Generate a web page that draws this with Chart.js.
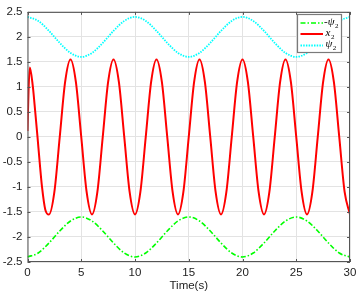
<!DOCTYPE html>
<html>
<head>
<meta charset="utf-8">
<script src="https://cdn.jsdelivr.net/npm/chart.js@4"></script>
<style>
  html, body { margin: 0; padding: 0; background: #fff; }
  canvas { display: block; }
</style>
</head>
<body>
<canvas id="chart" width="361" height="293"></canvas>
<script>
// x2 response (red)
const x2Time = [
  0, 0.1, 0.22, 0.5, 0.72, 0.93, 1.13, 1.35, 1.65, 2,
  2.5, 3, 3.5, 4, 4.5, 5, 5.5, 6,
  6.5, 7, 7.5, 8, 8.5, 9, 9.5, 10,
  10.5, 11, 11.5, 12, 12.5, 13, 13.5, 14,
  14.5, 15, 15.5, 16, 16.5, 17, 17.5, 18,
  18.5, 19, 19.5, 20, 20.5, 21, 21.5, 22,
  22.5, 23, 23.5, 24, 24.5, 25, 25.5, 26,
  26.5, 27, 27.5, 28, 28.5, 29, 29.5, 30
];
const x2Values = [
  0.12, 0.95, 1.39, 1.0, 0.5, 0, -0.5, -1.0, -1.45, -1.55,
  -1.1, 0, 1.1, 1.55, 1.1, 0, -1.1, -1.55,
  -1.1, 0, 1.1, 1.55, 1.1, 0, -1.1, -1.55,
  -1.1, 0, 1.1, 1.55, 1.1, 0, -1.1, -1.55,
  -1.1, 0, 1.1, 1.55, 1.1, 0, -1.1, -1.55,
  -1.1, 0, 1.1, 1.55, 1.1, 0, -1.1, -1.55,
  -1.1, 0, 1.1, 1.55, 1.1, 0, -1.1, -1.55,
  -1.1, 0, 1.1, 1.55, 1.1, 0, -1.1, -1.55
];

// psi2 (cyan) and -psi2 (green)
const psiTime = [
  0, 1, 2, 3, 4, 5, 6, 7, 8, 9,
  10, 11, 12, 13, 14, 15, 16, 17, 18, 19,
  20, 21, 22, 23, 24, 25, 26, 27, 28, 29, 30
];
const psiValues = [
  2.40, 2.32, 2.12, 1.88, 1.68, 1.60, 1.68, 1.88, 2.12, 2.32,
  2.40, 2.32, 2.12, 1.88, 1.68, 1.60, 1.68, 1.88, 2.12, 2.32,
  2.40, 2.32, 2.12, 1.88, 1.68, 1.60, 1.68, 1.88, 2.12, 2.32, 2.40
];
const negPsiValues = [
  -2.40, -2.32, -2.12, -1.88, -1.68, -1.60, -1.68, -1.88, -2.12, -2.32,
  -2.40, -2.32, -2.12, -1.88, -1.68, -1.60, -1.68, -1.88, -2.12, -2.32,
  -2.40, -2.32, -2.12, -1.88, -1.68, -1.60, -1.68, -1.88, -2.12, -2.32, -2.40
];

const xTicks = [0, 5, 10, 15, 20, 25, 30];
const yTicks = [-2.5, -2, -1.5, -1, -0.5, 0, 0.5, 1, 1.5, 2, 2.5];
const legendNames = ['-\u03c8', 'x', '\u03c8'];
const legendSub = '2';
const xTitle = 'Time(s)';

function toPoints(xs, ys) {
  return xs.map((x, i) => ({ x: x, y: ys[i] }));
}

// box around the axes with inward tick marks (matlab style)
const axesBox = {
  id: 'axesBox',
  afterDatasetsDraw(chart) {
    const { ctx, chartArea: a, scales } = chart;
    ctx.save();
    ctx.strokeStyle = '#555';
    ctx.lineWidth = 1;
    ctx.strokeRect(a.left + 0.5, a.top + 0.5, a.right - a.left - 1, a.bottom - a.top - 1);
    ctx.beginPath();
    yTicks.forEach(v => {
      const y = Math.round(scales.y.getPixelForValue(v)) + 0.5;
      ctx.moveTo(a.left, y); ctx.lineTo(a.left + 3, y);
      ctx.moveTo(a.right, y); ctx.lineTo(a.right - 3, y);
    });
    xTicks.forEach(v => {
      const x = Math.round(scales.x.getPixelForValue(v)) + 0.5;
      ctx.moveTo(x, a.bottom); ctx.lineTo(x, a.bottom - 3);
      ctx.moveTo(x, a.top); ctx.lineTo(x, a.top + 3);
    });
    ctx.stroke();
    ctx.restore();
  }
};

// legend box in the top right corner
const boxLegend = {
  id: 'boxLegend',
  afterDraw(chart) {
    const ctx = chart.ctx;
    const bx = 297, by = 14, bw = 44, bh = 38;
    ctx.save();
    ctx.fillStyle = '#fff';
    ctx.fillRect(bx, by, bw, bh);
    ctx.strokeStyle = '#7a7a7a';
    ctx.lineWidth = 1.2;
    ctx.strokeRect(bx + 0.5, by + 0.5, bw, bh);
    const rows = [23, 34, 45.5];
    chart.data.datasets.forEach((ds, i) => {
      const y = rows[i];
      ctx.strokeStyle = ds.borderColor;
      ctx.lineWidth = ds.borderWidth;
      ctx.setLineDash(ds.borderDash || []);
      ctx.beginPath();
      ctx.moveTo(300.5, y);
      ctx.lineTo(323, y);
      ctx.stroke();
      ctx.setLineDash([]);
      ctx.fillStyle = '#000';
      ctx.textBaseline = 'middle';
      ctx.font = 'italic 11px "Liberation Serif"';
      const name = legendNames[i];
      const tx = name.startsWith('-') ? 324 : 325.5;
      ctx.fillText(name, tx, y - 1);
      const w = ctx.measureText(name).width;
      ctx.font = '7px "Liberation Serif"';
      ctx.fillText(legendSub, tx + w + 0.5, y + 3);
    });
    ctx.restore();
  }
};

const ctx = document.getElementById('chart').getContext('2d');
const chart = new Chart(ctx, {
  type: 'line',
  data: {
    datasets: [{
      label: '-psi2',
      data: toPoints(psiTime, negPsiValues),
      borderColor: '#00ff00',
      borderWidth: 1.6,
      borderDash: [5, 2, 1.5, 2]
    }, {
      label: 'x2',
      data: toPoints(x2Time, x2Values),
      borderColor: '#ff0000',
      borderWidth: 2
    }, {
      label: 'psi2',
      data: toPoints(psiTime, psiValues),
      borderColor: '#00ffff',
      borderWidth: 1.8,
      borderDash: [1.5, 1.2]
    }]
  },
  options: {
    responsive: false,
    animation: false,
    cubicInterpolationMode: 'monotone',
    elements: { point: { radius: 0 } },
    layout: { padding: { left: 0, right: 11, top: 7, bottom: 0 } },
    scales: {
      x: {
        type: 'linear',
        min: 0,
        max: 30,
        afterFit: s => { s.height = 31; },
        afterBuildTicks: s => { s.ticks = xTicks.map(v => ({ value: v })); },
        grid: { color: '#e3e3e3', drawTicks: false },
        border: { display: false },
        ticks: {
          color: '#222', padding: 4, maxRotation: 0,
          font: { family: 'Liberation Sans', size: 11.5 },
          callback: v => String(v)
        },
        title: {
          display: true,
          text: xTitle,
          color: '#222',
          padding: { top: 0, bottom: 0 },
          font: { family: 'Liberation Sans', size: 11.5 }
        }
      },
      y: {
        min: -2.5,
        max: 2.5,
        afterFit: s => { s.width = 27.5; },
        afterBuildTicks: s => { s.ticks = yTicks.map(v => ({ value: v })); },
        grid: { color: '#e3e3e3', drawTicks: false },
        border: { display: false },
        ticks: {
          color: '#222', padding: 5,
          font: { family: 'Liberation Sans', size: 11.5 },
          callback: v => String(v)
        }
      }
    },
    plugins: {
      legend: { display: false },
      tooltip: { enabled: false }
    }
  },
  plugins: [axesBox, boxLegend]
});
</script>
</body>
</html>
